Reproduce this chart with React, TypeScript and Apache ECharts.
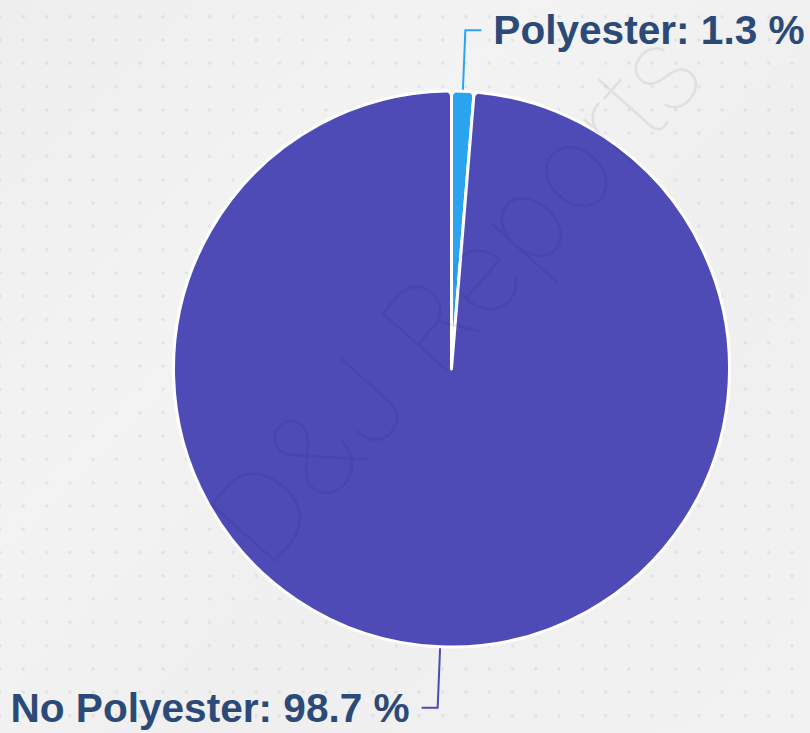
import React, { useEffect, useRef } from "react";
import * as echarts from "echarts";

const categories: string[] = ["Polyester", "No Polyester"];
const values: number[] = [1.3, 98.7];
const colors: string[] = ["#2ba4ef", "#4e4bb7"];

export default function App() {
  const ref = useRef<HTMLDivElement>(null);
  useEffect(() => {
    if (!ref.current) return;
    const chart = echarts.init(ref.current, undefined, { renderer: "svg" });
    chart.setOption({
      animation: false,
      backgroundColor: "transparent",
      graphic: [
        {
          type: "text",
          x: 455,
          y: 296,
          rotation: 0.84,
          z: 100,
          silent: true,
          style: {
            text: "D&J Reports",
            fontFamily: "Inter, Lato, sans-serif",
            fontWeight: 100,
            fontSize: 120,
            fill: "rgba(0,0,0,0.065)",
            align: "center",
            verticalAlign: "middle",
          },
        },
      ],
      series: [
        {
          type: "pie",
          center: [451.5, 369],
          radius: 278,
          startAngle: 90,
          clockwise: true,
          avoidLabelOverlap: false,
          itemStyle: { borderColor: "#ffffff", borderWidth: 3, borderRadius: 5 },
          label: {
            show: true,
            position: "outside",
            formatter: "{b}: {c} %",
            color: "#2c4a78",
            fontSize: 40.6,
            fontWeight: "bold",
            fontFamily: "Liberation Sans, Arial, sans-serif",
            distanceToLabelLine: 12,
            padding: [0, 0, 4, 0],
          },
          labelLine: { show: true, length: 61, length2: 16, lineStyle: { width: 2 } },
          data: categories.map((c, i) => ({
            name: c,
            value: values[i],
            itemStyle: { color: colors[i] },
            labelLine: { lineStyle: { color: colors[i] } },
          })),
        },
      ],
    });
    return () => chart.dispose();
  }, []);
  return (
    <div
      ref={ref}
      style={{
        position: "fixed",
        left: 0,
        top: 0,
        width: 810,
        height: 733,
        backgroundColor: "#f1f1f1",
        backgroundImage:
          "radial-gradient(circle, rgba(0,0,0,0.07) 1.3px, transparent 1.8px), linear-gradient(135deg, #eeeeee 0%, #f3f3f3 35%, #efefef 60%, #f2f2f2 100%)",
        backgroundSize: "23.3px 23.3px, 100% 100%",
        backgroundPosition: "11.6px 5px, 0 0",
      }}
    />
  );
}
